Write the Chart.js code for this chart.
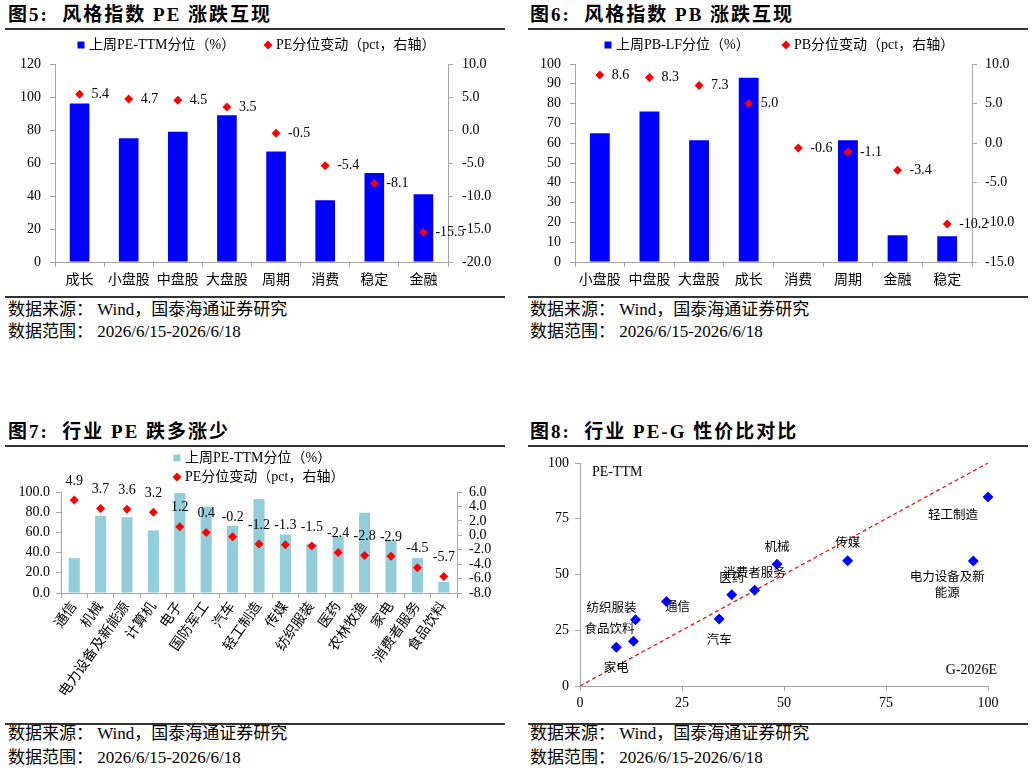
<!DOCTYPE html>
<html>
<head>
<meta charset="utf-8">
<title>风格指数与行业估值</title>
<script src="https://cdn.jsdelivr.net/npm/chart.js@4.4.1/dist/chart.umd.min.js"></script>
<style>
  body { margin: 0; background: #fff; }
  #page { position: relative; width: 1032px; height: 771px; overflow: hidden;
          font-family: "Liberation Serif", "Noto Sans CJK SC", serif; color: #000; }
  .title { position: absolute; font-size: 19px; font-weight: bold; letter-spacing: 2px; white-space: nowrap; line-height: 22px; }
  .rule { position: absolute; height: 2px; background: #333; }
  .src { position: absolute; font-size: 17px; white-space: nowrap; line-height: 20px; }
  canvas { position: absolute; }
</style>
</head>
<body>
<div id="page">
  <div class="title" style="left:8px;top:4px">图5:&nbsp; 风格指数 PE 涨跌互现</div>
  <div class="rule" style="left:5px;top:28px;width:500px"></div>
  <canvas id="c5" width="500" height="270" style="left:5px;top:25px"></canvas>
  <div class="rule" style="left:5px;top:296px;width:500px"></div>
  <div class="src" style="left:8px;top:300px">数据来源：&nbsp;Wind，国泰海通证券研究</div>
  <div class="src" style="left:8px;top:322px">数据范围：&nbsp;2026/6/15-2026/6/18</div>

  <div class="title" style="left:530px;top:4px">图6:&nbsp; 风格指数 PB 涨跌互现</div>
  <div class="rule" style="left:528px;top:28px;width:500px"></div>
  <canvas id="c6" width="500" height="270" style="left:528px;top:25px"></canvas>
  <div class="rule" style="left:528px;top:296px;width:500px"></div>
  <div class="src" style="left:530px;top:300px">数据来源：&nbsp;Wind，国泰海通证券研究</div>
  <div class="src" style="left:530px;top:322px">数据范围：&nbsp;2026/6/15-2026/6/18</div>

  <div class="title" style="left:8px;top:421px">图7:&nbsp; 行业 PE 跌多涨少</div>
  <div class="rule" style="left:5px;top:445px;width:500px"></div>
  <canvas id="c7" width="500" height="278" style="left:5px;top:444px"></canvas>
  <div class="rule" style="left:5px;top:723px;width:500px"></div>
  <div class="src" style="left:8px;top:724px">数据来源：&nbsp;Wind，国泰海通证券研究</div>
  <div class="src" style="left:8px;top:748px">数据范围：&nbsp;2026/6/15-2026/6/18</div>

  <div class="title" style="left:530px;top:421px">图8:&nbsp; 行业 PE-G 性价比对比</div>
  <div class="rule" style="left:528px;top:445px;width:500px"></div>
  <canvas id="c8" width="500" height="274" style="left:528px;top:448px"></canvas>
  <div class="rule" style="left:528px;top:723px;width:500px"></div>
  <div class="src" style="left:530px;top:724px">数据来源：&nbsp;Wind，国泰海通证券研究</div>
  <div class="src" style="left:530px;top:748px">数据范围：&nbsp;2026/6/15-2026/6/18</div>
</div>

<script>
// 图5 风格指数 PE
const peStyles = ['成长', '小盘股', '中盘股', '大盘股', '周期', '消费', '稳定', '金融']
const pePctStyles = [96, 75, 79, 89, 67, 37.5, 54, 41]
const peChgStyles = [5.4, 4.7, 4.5, 3.5, -0.5, -5.4, -8.1, -15.5]

// 图6 风格指数 PB
const pbStyles = ['小盘股', '中盘股', '大盘股', '成长', '消费', '周期', '金融', '稳定']
const pbPctStyles = [65, 76, 61.5, 93, 0, 61.5, 13.5, 13]
const pbChgStyles = [8.6, 8.3, 7.3, 5.0, -0.6, -1.1, -3.4, -10.2]

// 图7 行业 PE
const industries = ['通信', '机械', '电力设备及新能源', '计算机', '电子', '国防军工', '汽车', '轻工制造',
  '传媒', '纺织服装', '医药', '农林牧渔', '家电', '消费者服务', '食品饮料']
const pePctInd = [34.5, 76.5, 75, 62, 99, 85.5, 66.5, 93, 58, 48.5, 56, 79.5, 52, 34.5, 11]
const peChgInd = [4.9, 3.7, 3.6, 3.2, 1.2, 0.4, -0.2, -1.2, -1.3, -1.5, -2.4, -2.8, -2.9, -4.5, -5.7]

// 图8 PE-G
const pegNames = ['家电', '食品饮料', '纺织服装', '通信', '汽车', '医药', '消费者服务', '机械', '传媒', '电力设备及新能源', '轻工制造']
const pegGrowth = [8.9, 13.1, 13.6, 21.2, 34.1, 37.2, 42.8, 48.3, 65.6, 96.4, 100]
const pegPE = [17.4, 20.1, 29.7, 37.9, 30.1, 40.9, 42.9, 54.6, 56.2, 56.1, 84.7]
const diagGrowth = [0, 100]
const diagPE = [0, 100]
// where each name sits relative to its point
const pegLabelSide = ['below', 'aboveLeft', 'aboveLeft', 'right', 'below', 'above', 'above', 'above', 'above', 'belowWrap', 'belowLeft']

const SERIF = '"Liberation Serif", "Noto Sans CJK SC", serif'
const AXIS = '#a6a6a6'
const BLUE = '#0000ff'
const RED = '#ff0000'
const LIGHTBLUE = '#92cddc'

function valueAxis(position, min, max, step, digits, width, pad) {
   return {
      position: position, min: min, max: max,
      ticks: { stepSize: step, autoSkip: false, color: '#000', font: { family: SERIF, size: 14 }, padding: pad,
               callback: v => Number(v).toFixed(digits) },
      grid: { display: true, drawOnChartArea: false, drawTicks: true, tickLength: 5, color: AXIS },
      border: { color: AXIS },
      afterFit: s => { s.width = width }
   }
}

function catAxis(height, rotation) {
   return {
      offset: true,
      grid: { display: true, offset: true, drawOnChartArea: false, tickLength: 5, color: AXIS },
      border: { color: AXIS },
      ticks: { color: '#000', font: { family: SERIF, size: 14 }, padding: rotation ? 1 : 5, autoSkip: false,
               maxRotation: rotation, minRotation: rotation },
      afterFit: s => { s.height = height }
   }
}

// legend drawn at fixed spots, like the original
function legendAt(items) {
   return {
      id: 'legendAt',
      afterDraw(chart) {
         const ctx = chart.ctx
         ctx.save()
         ctx.font = '14px ' + SERIF
         ctx.textBaseline = 'middle'
         ctx.textAlign = 'left'
         items.forEach(it => {
            const ds = chart.data.datasets[it.ds]
            ctx.fillStyle = ds.backgroundColor
            ctx.beginPath()
            if (ds.pointStyle === 'rectRot') {
               ctx.moveTo(it.x, it.y - 4.5)
               ctx.lineTo(it.x + 4.5, it.y)
               ctx.lineTo(it.x, it.y + 4.5)
               ctx.lineTo(it.x - 4.5, it.y)
               ctx.closePath()
            } else {
               ctx.rect(it.x - 3.5, it.y - 3.5, 7, 7)
            }
            ctx.fill()
            ctx.fillStyle = '#000'
            ctx.fillText(ds.label, it.x + 8, it.y)
         })
         ctx.restore()
      }
   }
}

function valueLabels(dsIndex, place) {
   return {
      id: 'valueLabels',
      afterDatasetsDraw(chart) {
         const ctx = chart.ctx
         const ds = chart.data.datasets[dsIndex]
         ctx.save()
         ctx.font = '14px ' + SERIF
         ctx.fillStyle = '#000'
         ctx.textBaseline = 'middle'
         ctx.textAlign = place === 'above' ? 'center' : 'left'
         chart.getDatasetMeta(dsIndex).data.forEach((pt, i) => {
            const txt = ds.data[i].toFixed(1)
            if (place === 'above') ctx.fillText(txt, pt.x, pt.y - 19)
            else ctx.fillText(txt, pt.x + 12, pt.y)
         })
         ctx.restore()
      }
   }
}

function comboChart(id, cats, pct, chg, o) {
   return new Chart(document.getElementById(id), {
      type: 'bar',
      data: {
         labels: cats,
         datasets: [
            { type: 'bar', label: o.barLabel, data: pct, backgroundColor: o.barColor, pointStyle: 'rect',
              yAxisID: 'y', barPercentage: o.barPct, categoryPercentage: 1, order: 2 },
            { type: 'line', label: o.dotLabel, data: chg, showLine: false, pointStyle: 'rectRot',
              pointRadius: 4.5, pointHoverRadius: 4.5, backgroundColor: RED, borderColor: RED,
              pointBorderWidth: 0, yAxisID: 'y1', order: 1, clip: false }
         ]
      },
      options: {
         responsive: false,
         animation: false,
         layout: { padding: { top: o.top, left: 0, right: 0, bottom: 0 } },
         plugins: { legend: { display: false }, tooltip: { enabled: false } },
         scales: {
            x: catAxis(o.xHeight, o.rotation),
            y: valueAxis('left', ...o.left),
            y1: valueAxis('right', ...o.right)
         }
      },
      plugins: [legendAt(o.legend), valueLabels(1, o.labelPlace)]
   })
}

comboChart('c5', peStyles, pePctStyles, peChgStyles, {
   barLabel: '上周PE-TTM分位（%）', dotLabel: 'PE分位变动（pct，右轴）', barColor: BLUE, barPct: 0.4,
   top: 39, xHeight: 33, rotation: 0,
   left: [0, 120, 20, 0, 50, 9], right: [-20, 10, 5, 1, 57, 9],
   legend: [{ ds: 0, x: 76, y: 20 }, { ds: 1, x: 263, y: 20 }], labelPlace: 'right'
})

comboChart('c6', pbStyles, pbPctStyles, pbChgStyles, {
   barLabel: '上周PB-LF分位（%）', dotLabel: 'PB分位变动（pct，右轴）', barColor: BLUE, barPct: 0.4,
   top: 39, xHeight: 33, rotation: 0,
   left: [0, 100, 10, 0, 47, 9], right: [-15, 10, 5, 1, 56, 8],
   legend: [{ ds: 0, x: 80, y: 20 }, { ds: 1, x: 258, y: 20 }], labelPlace: 'right'
})

comboChart('c7', industries, pePctInd, peChgInd, {
   barLabel: '上周PE-TTM分位（%）', dotLabel: 'PE分位变动（pct，右轴）', barColor: LIGHTBLUE, barPct: 0.42,
   top: 48, xHeight: 129, rotation: 55,
   left: [0, 100, 20, 1, 56, 6], right: [-8, 6, 2, 1, 48, 7],
   legend: [{ ds: 0, x: 172, y: 14 }, { ds: 1, x: 172, y: 33 }], labelPlace: 'above'
})

const pegLabelPlugin = {
   id: 'pegLabels',
   afterDatasetsDraw(chart) {
      const ctx = chart.ctx
      const pts = chart.getDatasetMeta(0).data
      ctx.save()
      ctx.font = '12.5px "Noto Sans CJK SC", sans-serif'
      ctx.fillStyle = '#000'
      ctx.textBaseline = 'middle'
      ctx.textAlign = 'center'
      pts.forEach((pt, i) => {
         const name = pegNames[i]
         const side = pegLabelSide[i]
         let x = pt.x, y = pt.y
         if (side === 'below') y += 20
         else if (side === 'above') y -= 18
         else if (side === 'aboveLeft') { x -= 24; y -= 13 }
         else if (side === 'right') { x += 11; y += 5 }
         else if (side === 'belowLeft') { x -= 35; y += 17 }
         if (side === 'belowWrap') {
            ctx.fillText(name.slice(0, 6), x - 26, y + 15)
            ctx.fillText(name.slice(6), x - 26, y + 31)
         } else {
            ctx.fillText(name, x, y)
         }
      })
      const area = chart.chartArea
      ctx.font = '14px "Liberation Serif", serif'
      ctx.textAlign = 'left'
      ctx.fillText('PE-TTM', area.left + 12, area.top + 9)
      ctx.textAlign = 'right'
      ctx.fillText('G-2026E', area.right + 9, area.bottom - 16)
      ctx.restore()
   }
}

function scatterAxis(pos, size, pad) {
   const a = {
      type: 'linear', position: pos, min: 0, max: 100,
      ticks: { stepSize: 25, autoSkip: false, color: '#000', font: { family: SERIF, size: 14 }, padding: pad },
      grid: { display: true, drawOnChartArea: false, drawTicks: true, tickLength: 5, color: AXIS },
      border: { color: AXIS }
   }
   a.afterFit = pos === 'left' ? (s => { s.width = size }) : (s => { s.height = size })
   return a
}

new Chart(document.getElementById('c8'), {
   type: 'scatter',
   data: {
      datasets: [
         { label: 'PE-G', data: pegNames.map((n, i) => ({ x: pegGrowth[i], y: pegPE[i] })),
           pointStyle: 'rectRot', pointRadius: 5.5, pointHoverRadius: 5.5, clip: false,
           backgroundColor: BLUE, borderColor: BLUE, pointBorderWidth: 0 },
         { type: 'line', label: '对角线', data: diagGrowth.map((g, i) => ({ x: g, y: diagPE[i] })),
           borderColor: RED, borderWidth: 1.2, borderDash: [4, 3], pointRadius: 0, fill: false }
      ]
   },
   options: {
      responsive: false,
      animation: false,
      layout: { padding: { top: 15, right: 40, left: 0, bottom: 0 } },
      plugins: { legend: { display: false }, tooltip: { enabled: false } },
      scales: {
         x: scatterAxis('bottom', 36, 4),
         y: scatterAxis('left', 52, 6)
      }
   },
   plugins: [pegLabelPlugin]
})
</script>
</body>
</html>
